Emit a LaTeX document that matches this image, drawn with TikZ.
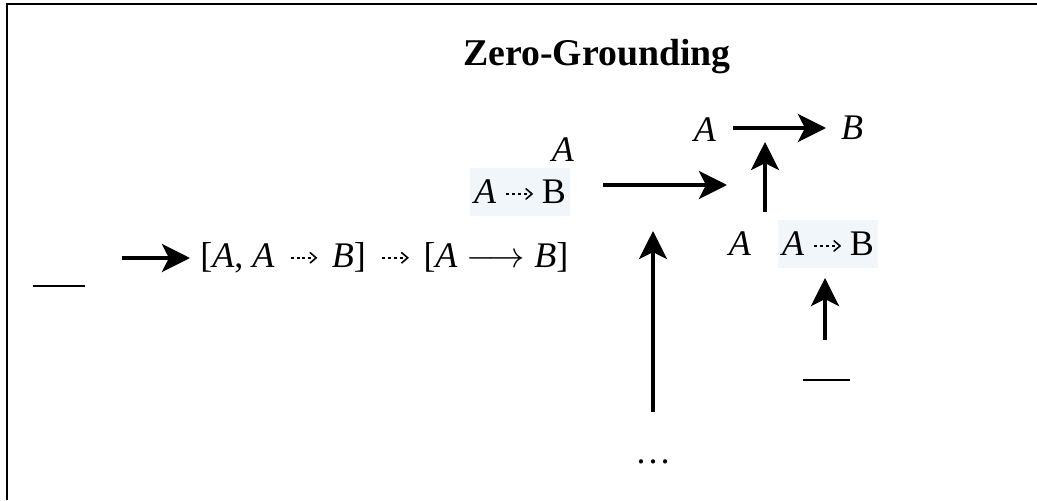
\documentclass[tikz,border=0pt]{standalone}
\usepackage{amssymb}
\usepackage{fontspec}
\setmainfont{Liberation Serif}
\usetikzlibrary{arrows.meta}
\definecolor{boxfill}{HTML}{F1F6FA}
\newcommand{\dotarr}{\mathrel{\tikz[baseline=-0.6ex,x=1pt,y=1pt]{\draw[line width=1.2pt,dash pattern=on 1.7pt off 1.7pt] (0,0) -- (12.5,0);\draw[line width=0.9pt,line cap=round] (11.2,2.9) -- (14.6,0) -- (11.2,-2.9);}}}
\begin{document}
\begin{tikzpicture}[x=0.02cm,y=-0.02cm,
  lbl/.style={inner sep=0pt,font=\fontsize{20.5}{23}\selectfont},
  hl/.style={lbl,fill=boxfill,minimum width=100*0.02cm,minimum height=48*0.02cm},
  arr/.style={line width=2pt,-{Stealth[length=16pt,width=16pt,inset=4pt]}},
  bar/.style={line width=1.3pt},
  frame/.style={line width=1.7pt}]
\useasboundingbox (0,0) rectangle (1037,500);
\draw[frame] (7,500) -- (7,4) -- (1037,4);
\node[font=\bfseries\fontsize{21.5}{24}\selectfont] (title) at (597,57) {Zero-Grounding};
% left formula line
\coordinate (barL1) at (33,286);
\coordinate (barL2) at (85,286);
\draw[bar] (barL1) -- (barL2);
\node[lbl,anchor=west] (formula) at (200,258) {[\textit{A}, \textit{A} \,$\dotarr$\, \textit{B}] \,$\dotarr$\, [\textit{A} $\longrightarrow$ \textit{B}]};
\coordinate (a0s) at (122,258);
\coordinate (a0e) at (190,258);
\draw[arr] (a0s) -- (a0e);
% first box
\node[hl] (box1) at (520,192) {\textit{A} $\dotarr$ B};
\node[lbl] (A1) at (563,150) {\textit{A}};
\coordinate (a1s) at (603,185);
\coordinate (a1e) at (727,185);
\draw[arr] (a1s) -- (a1e);
% top
\node[lbl] (Atop) at (705,130) {\textit{A}};
\node[lbl] (Btop) at (852,128) {\textit{B}};
\coordinate (t1) at (733,128);
\coordinate (t2) at (826,128);
\draw[arr] (t1) -- (t2);
% second row
\node[lbl] (A2) at (740,244) {\textit{A}};
\node[hl] (box2) at (828,244) {\textit{A} $\dotarr$ B};
\coordinate (u1s) at (765,212);
\coordinate (u1e) at (765,142);
\draw[arr] (u1s) -- (u1e);
\coordinate (u2s) at (825,340);
\coordinate (u2e) at (825,278);
\draw[arr] (u2s) -- (u2e);
\coordinate (barR1) at (803,380);
\coordinate (barR2) at (850,380);
\draw[bar] (barR1) -- (barR2);
% long arrow
\node[lbl] (dots) at (653,462) {\dots};
\coordinate (l1s) at (653,412);
\coordinate (l1e) at (653,231);
\draw[arr] (l1s) -- (l1e);
\end{tikzpicture}
\end{document}
